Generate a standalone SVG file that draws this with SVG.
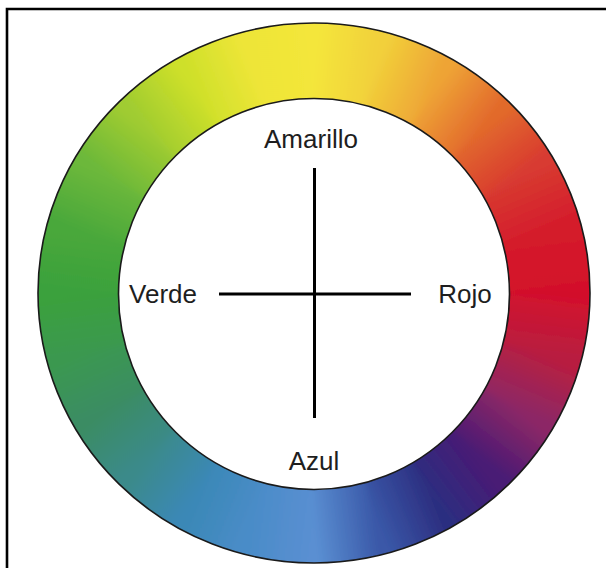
<svg xmlns="http://www.w3.org/2000/svg" xmlns:xlink="http://www.w3.org/1999/xlink" width="606" height="568" viewBox="0 0 606 568">
<style>
.lbl{font-family:"Liberation Sans",Arial,sans-serif;font-size:26px;fill:#1e1e1e;text-anchor:middle}
.seg{fill:none;stroke-width:110;stroke-linecap:butt}
.edge{fill:none;stroke:#1a1a1a;stroke-width:1.6}
.axis{stroke:#000;stroke-width:3;fill:none}
</style>
<defs>
<clipPath id="ring"><path clip-rule="evenodd" d="M38,293 A276,270 0 1 0 590,293 A276,270 0 1 0 38,293 Z M118.5,294 A195.5,195.5 0 1 1 509.5,294 A195.5,195.5 0 1 1 118.5,294 Z"/></clipPath>
<filter id="soft" x="-10%" y="-10%" width="120%" height="120%"><feGaussianBlur stdDeviation="2.5"/></filter>
<linearGradient id="g0" gradientUnits="userSpaceOnUse" x1="550" y1="293.5" x2="541.96" y2="353.81"><stop offset="0" stop-color="#d3102c"/><stop offset="1" stop-color="#b81e40"/></linearGradient>
<linearGradient id="g1" gradientUnits="userSpaceOnUse" x1="541.96" y1="353.81" x2="518.38" y2="410"><stop offset="0" stop-color="#b81e40"/><stop offset="1" stop-color="#8c2866"/></linearGradient>
<linearGradient id="g2" gradientUnits="userSpaceOnUse" x1="518.38" y1="410" x2="480.88" y2="458.26"><stop offset="0" stop-color="#8c2866"/><stop offset="1" stop-color="#4a1a74"/></linearGradient>
<linearGradient id="g3" gradientUnits="userSpaceOnUse" x1="480.88" y1="458.26" x2="432" y2="495.29"><stop offset="0" stop-color="#4a1a74"/><stop offset="1" stop-color="#2c2e80"/></linearGradient>
<linearGradient id="g4" gradientUnits="userSpaceOnUse" x1="432" y1="495.29" x2="375.08" y2="518.56"><stop offset="0" stop-color="#2c2e80"/><stop offset="1" stop-color="#3a58a8"/></linearGradient>
<linearGradient id="g5" gradientUnits="userSpaceOnUse" x1="375.08" y1="518.56" x2="314" y2="526.5"><stop offset="0" stop-color="#3a58a8"/><stop offset="1" stop-color="#5a8fd2"/></linearGradient>
<linearGradient id="g6" gradientUnits="userSpaceOnUse" x1="314" y1="526.5" x2="252.92" y2="518.56"><stop offset="0" stop-color="#5a8fd2"/><stop offset="1" stop-color="#4a8cc8"/></linearGradient>
<linearGradient id="g7" gradientUnits="userSpaceOnUse" x1="252.92" y1="518.56" x2="196" y2="495.29"><stop offset="0" stop-color="#4a8cc8"/><stop offset="1" stop-color="#3a88b6"/></linearGradient>
<linearGradient id="g8" gradientUnits="userSpaceOnUse" x1="196" y1="495.29" x2="147.12" y2="458.26"><stop offset="0" stop-color="#3a88b6"/><stop offset="1" stop-color="#3a8a8a"/></linearGradient>
<linearGradient id="g9" gradientUnits="userSpaceOnUse" x1="147.12" y1="458.26" x2="109.62" y2="410"><stop offset="0" stop-color="#3a8a8a"/><stop offset="1" stop-color="#3a8c64"/></linearGradient>
<linearGradient id="g10" gradientUnits="userSpaceOnUse" x1="109.62" y1="410" x2="86.04" y2="353.81"><stop offset="0" stop-color="#3a8c64"/><stop offset="1" stop-color="#3a9850"/></linearGradient>
<linearGradient id="g11" gradientUnits="userSpaceOnUse" x1="86.04" y1="353.81" x2="78" y2="293.5"><stop offset="0" stop-color="#3a9850"/><stop offset="1" stop-color="#3aa13c"/></linearGradient>
<linearGradient id="g12" gradientUnits="userSpaceOnUse" x1="78" y1="293.5" x2="86.04" y2="233.19"><stop offset="0" stop-color="#3aa13c"/><stop offset="1" stop-color="#4aa83a"/></linearGradient>
<linearGradient id="g13" gradientUnits="userSpaceOnUse" x1="86.04" y1="233.19" x2="109.62" y2="177"><stop offset="0" stop-color="#4aa83a"/><stop offset="1" stop-color="#6cb83a"/></linearGradient>
<linearGradient id="g14" gradientUnits="userSpaceOnUse" x1="109.62" y1="177" x2="147.12" y2="128.74"><stop offset="0" stop-color="#6cb83a"/><stop offset="1" stop-color="#a0cc30"/></linearGradient>
<linearGradient id="g15" gradientUnits="userSpaceOnUse" x1="147.12" y1="128.74" x2="196" y2="91.71"><stop offset="0" stop-color="#a0cc30"/><stop offset="1" stop-color="#cee02a"/></linearGradient>
<linearGradient id="g16" gradientUnits="userSpaceOnUse" x1="196" y1="91.71" x2="252.92" y2="68.44"><stop offset="0" stop-color="#cee02a"/><stop offset="1" stop-color="#eee538"/></linearGradient>
<linearGradient id="g17" gradientUnits="userSpaceOnUse" x1="252.92" y1="68.44" x2="314" y2="60.5"><stop offset="0" stop-color="#eee538"/><stop offset="1" stop-color="#f4e63a"/></linearGradient>
<linearGradient id="g18" gradientUnits="userSpaceOnUse" x1="314" y1="60.5" x2="375.08" y2="68.44"><stop offset="0" stop-color="#f4e63a"/><stop offset="1" stop-color="#f2d03a"/></linearGradient>
<linearGradient id="g19" gradientUnits="userSpaceOnUse" x1="375.08" y1="68.44" x2="432" y2="91.71"><stop offset="0" stop-color="#f2d03a"/><stop offset="1" stop-color="#eea436"/></linearGradient>
<linearGradient id="g20" gradientUnits="userSpaceOnUse" x1="432" y1="91.71" x2="480.88" y2="128.74"><stop offset="0" stop-color="#eea436"/><stop offset="1" stop-color="#e26a2c"/></linearGradient>
<linearGradient id="g21" gradientUnits="userSpaceOnUse" x1="480.88" y1="128.74" x2="518.38" y2="177"><stop offset="0" stop-color="#e26a2c"/><stop offset="1" stop-color="#d83a30"/></linearGradient>
<linearGradient id="g22" gradientUnits="userSpaceOnUse" x1="518.38" y1="177" x2="541.96" y2="233.19"><stop offset="0" stop-color="#d83a30"/><stop offset="1" stop-color="#d41c2c"/></linearGradient>
<linearGradient id="g23" gradientUnits="userSpaceOnUse" x1="541.96" y1="233.19" x2="550" y2="293.5"><stop offset="0" stop-color="#d41c2c"/><stop offset="1" stop-color="#d3102c"/></linearGradient>
<g id="segs">
<path class="seg" stroke="url(#g0)" d="M550,293.5 A236,233 0 0 1 541.96,353.81"/>
<path class="seg" stroke="url(#g1)" d="M541.96,353.81 A236,233 0 0 1 518.38,410"/>
<path class="seg" stroke="url(#g2)" d="M518.38,410 A236,233 0 0 1 480.88,458.26"/>
<path class="seg" stroke="url(#g3)" d="M480.88,458.26 A236,233 0 0 1 432,495.29"/>
<path class="seg" stroke="url(#g4)" d="M432,495.29 A236,233 0 0 1 375.08,518.56"/>
<path class="seg" stroke="url(#g5)" d="M375.08,518.56 A236,233 0 0 1 314,526.5"/>
<path class="seg" stroke="url(#g6)" d="M314,526.5 A236,233 0 0 1 252.92,518.56"/>
<path class="seg" stroke="url(#g7)" d="M252.92,518.56 A236,233 0 0 1 196,495.29"/>
<path class="seg" stroke="url(#g8)" d="M196,495.29 A236,233 0 0 1 147.12,458.26"/>
<path class="seg" stroke="url(#g9)" d="M147.12,458.26 A236,233 0 0 1 109.62,410"/>
<path class="seg" stroke="url(#g10)" d="M109.62,410 A236,233 0 0 1 86.04,353.81"/>
<path class="seg" stroke="url(#g11)" d="M86.04,353.81 A236,233 0 0 1 78,293.5"/>
<path class="seg" stroke="url(#g12)" d="M78,293.5 A236,233 0 0 1 86.04,233.19"/>
<path class="seg" stroke="url(#g13)" d="M86.04,233.19 A236,233 0 0 1 109.62,177"/>
<path class="seg" stroke="url(#g14)" d="M109.62,177 A236,233 0 0 1 147.12,128.74"/>
<path class="seg" stroke="url(#g15)" d="M147.12,128.74 A236,233 0 0 1 196,91.71"/>
<path class="seg" stroke="url(#g16)" d="M196,91.71 A236,233 0 0 1 252.92,68.44"/>
<path class="seg" stroke="url(#g17)" d="M252.92,68.44 A236,233 0 0 1 314,60.5"/>
<path class="seg" stroke="url(#g18)" d="M314,60.5 A236,233 0 0 1 375.08,68.44"/>
<path class="seg" stroke="url(#g19)" d="M375.08,68.44 A236,233 0 0 1 432,91.71"/>
<path class="seg" stroke="url(#g20)" d="M432,91.71 A236,233 0 0 1 480.88,128.74"/>
<path class="seg" stroke="url(#g21)" d="M480.88,128.74 A236,233 0 0 1 518.38,177"/>
<path class="seg" stroke="url(#g22)" d="M518.38,177 A236,233 0 0 1 541.96,233.19"/>
<path class="seg" stroke="url(#g23)" d="M541.96,233.19 A236,233 0 0 1 550,293.5"/>
</g>
</defs>
<rect x="0" y="0" width="606" height="568" fill="#fff"/>
<path d="M7,568 V9 H606" fill="none" stroke="#000" stroke-width="2.6"/>
<g id="wheel">
<g clip-path="url(#ring)">
<g filter="url(#soft)">
<use href="#segs" xlink:href="#segs"/>
<use href="#segs" xlink:href="#segs"/>
<use href="#segs" xlink:href="#segs"/>
</g>
</g>
<ellipse class="edge" cx="314" cy="293" rx="276" ry="270"/>
<circle class="edge" cx="314" cy="294" r="195.5"/>
</g>
<g id="connectors">
<line class="axis" x1="314.5" y1="168" x2="314.5" y2="418"/>
<line class="axis" x1="219" y1="294" x2="411" y2="294"/>
</g>
<g id="amarillo"><text class="lbl" x="311" y="148">Amarillo</text></g>
<g id="verde"><text class="lbl" x="163" y="303">Verde</text></g>
<g id="rojo"><text class="lbl" x="465" y="303">Rojo</text></g>
<g id="azul"><text class="lbl" x="314" y="470">Azul</text></g>
</svg>
